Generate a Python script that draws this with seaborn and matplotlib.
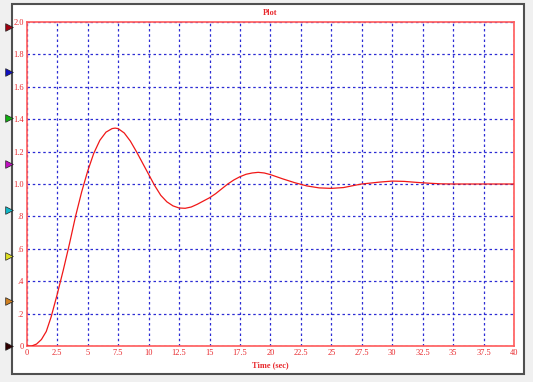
import matplotlib
matplotlib.use("Agg")
import matplotlib.pyplot as plt
import matplotlib.transforms as mtransforms
from matplotlib.patches import Rectangle
import seaborn as sns
import pandas as pd

# ---- data ----
time_s = [0, 0.4, 0.8, 1.2, 1.6, 2.0, 2.5, 3.0, 3.5, 4.0, 4.5, 5.0, 5.5, 6.0, 6.5, 7.0,
          7.25, 7.5, 8.0, 8.5, 9.0, 9.5, 10.0, 10.5, 11.0, 11.5, 12.0, 12.5, 13.0,
          13.5, 14.0, 14.5, 15.0, 15.5, 16.0, 16.5, 17.0, 17.5, 18.0, 18.5, 19.0,
          19.5, 20.0, 21.0, 22.0, 22.5, 23.0, 24.0, 25.0, 26.0, 27.0, 27.5, 28.0,
          29.0, 30.0, 31.0, 32.0, 33.0, 34.0, 35.0, 40.0]
response = [0.0, 0.0, 0.012, 0.04, 0.09, 0.18, 0.32, 0.47, 0.63, 0.80, 0.95, 1.08,
            1.19, 1.27, 1.32, 1.342, 1.345, 1.342, 1.315, 1.265, 1.20, 1.13, 1.06,
            0.99, 0.93, 0.89, 0.865, 0.852, 0.85, 0.858, 0.875, 0.895, 0.915, 0.94,
            0.97, 1.0, 1.025, 1.045, 1.06, 1.068, 1.072, 1.068, 1.058, 1.032, 1.008,
            0.998, 0.988, 0.976, 0.973, 0.978, 0.993, 1.0, 1.004, 1.012, 1.018,
            1.016, 1.01, 1.005, 1.001, 1.0, 1.0]

x_ticks = [0, 2.5, 5, 7.5, 10, 12.5, 15, 17.5, 20, 22.5, 25, 27.5, 30, 32.5, 35, 37.5, 40]
x_labels = ["0", "2.5", "5", "7.5", "10", "12.5", "15", "17.5", "20", "22.5", "25",
            "27.5", "30", "32.5", "35", "37.5", "40"]
y_ticks = [0, 0.2, 0.4, 0.6, 0.8, 1.0, 1.2, 1.4, 1.6, 1.8, 2.0]
y_labels = ["0", ".2", ".4", ".6", ".8", "1.0", "1.2", "1.4", "1.6", "1.8", "2.0"]

title = "Plot"
x_title = "Time (sec)"

marker_levels = [1.97, 1.69, 1.405, 1.125, 0.84, 0.555, 0.275, 0.0]
marker_colors = ["#a00010", "#1010c0", "#10b010", "#c010c0", "#10b8c8", "#e0e020",
                 "#d08020", "#300000"]

df = pd.DataFrame({"t": time_s, "y": response})

W, H = 533, 382
fig = plt.figure(figsize=(W / 100, H / 100), dpi=100)
fig.patch.set_facecolor("#f0f0f0")

# background axes holding the white panel with gray border
bg = fig.add_axes([0, 0, 1, 1], zorder=0)
bg.set_xlim(0, W)
bg.set_ylim(H, 0)
bg.axis("off")
bg.add_patch(Rectangle((12, 4), 512, 370, facecolor="white", edgecolor="#505050",
                       linewidth=1.5))

ax = fig.add_axes([26.8 / W, 36 / H, (514 - 26.8) / W, (346 - 22) / H], zorder=2)
ax.set_facecolor("white")

sns.lineplot(data=df, x="t", y="y", ax=ax, color="#f01818", linewidth=0.9, zorder=3)

ax.set_xlim(0, 40)
ax.set_ylim(0, 2.0)
ax.set_xticks(x_ticks)
ax.set_xticklabels(x_labels)
ax.set_yticks(y_ticks)
ax.set_yticklabels(y_labels)

text_red = "#e8282c"
font = ["Liberation Serif", "DejaVu Serif"]
ax.tick_params(axis="both", length=0, labelsize=6, labelcolor=text_red, pad=2)
for lab in ax.get_xticklabels() + ax.get_yticklabels():
    lab.set_family(font)

ax.grid(True, color="#2c2cd4", linestyle=(0, (2, 2.2)), linewidth=0.9)
ax.set_axisbelow(True)
for sp in ax.spines.values():
    sp.set_color("#ff5a5a")
    sp.set_linewidth(1.2)

ax.set_xlabel(x_title, fontsize=6, color=text_red, family=font, fontweight="bold", labelpad=3)
ax.set_ylabel("")
fig.text(0.5 * (26.8 + 514) / W, 1 - 13 / H, title, ha="center", va="center",
         fontsize=6, color=text_red, family=font, fontweight="bold")

# left-side coloured pointer markers
trans = mtransforms.blended_transform_factory(fig.transFigure, ax.transData)
for lvl, col in zip(marker_levels, marker_colors):
    ax.scatter([8.5 / W], [lvl], transform=trans, marker=">", s=30, color=col,
               edgecolor="#202020", linewidth=0.5, clip_on=False, zorder=5)

fig.savefig("out.png", dpi=100, facecolor=fig.get_facecolor())
